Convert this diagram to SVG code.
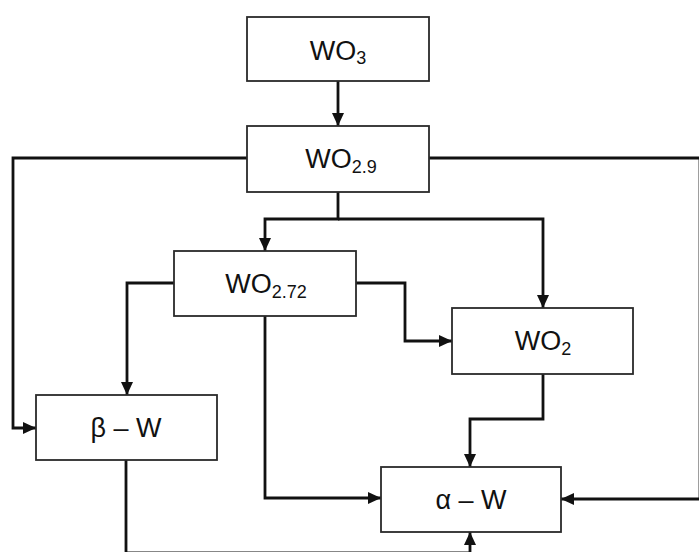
<svg xmlns="http://www.w3.org/2000/svg" width="699" height="552" viewBox="0 0 699 552">
<defs>
<marker id="ah" markerUnits="userSpaceOnUse" markerWidth="13" markerHeight="12" refX="13" refY="6" orient="auto">
<path d="M0,0 L13,6 L0,12 z" fill="#111"/>
</marker>
<style>
.box{fill:#fff;stroke:#2a2a2a;stroke-width:1.8}
.lbl{font-family:"Liberation Sans",Arial,sans-serif;font-size:27px;fill:#111;text-anchor:middle}
.sub{font-size:18px}
.ca{fill:none;stroke:#111;stroke-width:2.8;marker-end:url(#ah)}
</style>
</defs>
<rect width="699" height="552" fill="#fff"/>
<g id="connectors">
<path class="ca" d="M338,81 V126"/>
<path class="ca" d="M247,158 H13 V428 H36"/>
<path class="ca" d="M338,192 V219 H265 V251"/>
<path class="ca" d="M338,219 H543 V308"/>
<path class="ca" d="M174,283 H127 V395"/>
<path class="ca" d="M356,283 H405 V341 H452"/>
<path class="ca" d="M265,316 V498 H381"/>
<path class="ca" d="M543,374 V419 H470 V467"/>
<path class="ca" d="M429,158 H700 V499 H561"/>
<path class="ca" d="M126,460 V552.8 H470 V532"/>
</g>
<g id="wo3">
<rect class="box" x="247" y="17" width="182" height="64"/>
<text class="lbl" x="338" y="60">WO<tspan class="sub" dy="4">3</tspan></text>
</g>
<g id="wo29">
<rect class="box" x="247" y="126" width="182" height="66"/>
<text class="lbl" x="341" y="168">WO<tspan class="sub" dy="5">2.9</tspan></text>
</g>
<g id="wo272">
<rect class="box" x="174" y="251" width="182" height="65"/>
<text class="lbl" x="266" y="293">WO<tspan class="sub" dy="5">2.72</tspan></text>
</g>
<g id="wo2">
<rect class="box" x="452" y="308" width="181" height="66"/>
<text class="lbl" x="543" y="350">WO<tspan class="sub" dy="5">2</tspan></text>
</g>
<g id="betaw">
<rect class="box" x="36" y="395" width="181" height="65"/>
<text class="lbl" x="126" y="437">β – W</text>
</g>
<g id="alphaw">
<rect class="box" x="381" y="467" width="180" height="65"/>
<text class="lbl" x="471" y="509">α – W</text>
</g>
</svg>
